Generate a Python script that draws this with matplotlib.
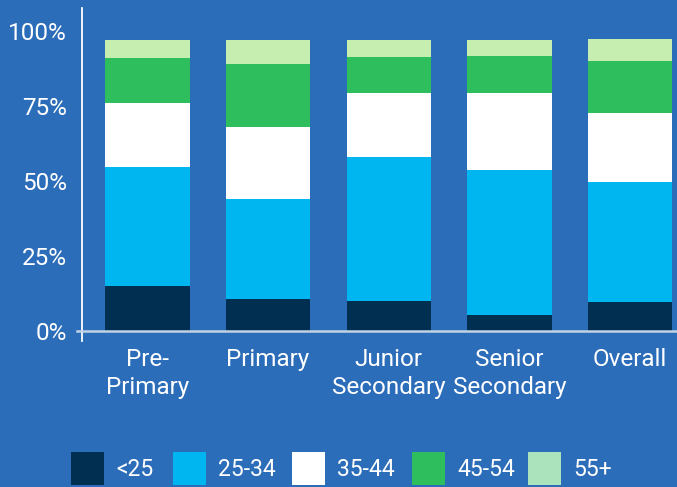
import matplotlib
matplotlib.use("agg")
import matplotlib.pyplot as plt
from matplotlib.patches import Rectangle
import numpy as np

plt.rcParams['font.family'] = ['Roboto', 'DejaVu Sans']

# share of teachers by age band, per education level (%)
levels = ["Pre-\nPrimary", "Primary", "Junior\nSecondary", "Senior\nSecondary", "Overall"]
age_bands = ["<25", "25-34", "35-44", "45-54", "55+"]
under_25 = [15.0, 10.7, 10.0, 5.3, 9.7]
age_25_34 = [39.7, 33.3, 48.0, 48.4, 40.0]
age_35_44 = [21.3, 24.0, 21.3, 25.6, 23.0]
age_45_54 = [15.0, 21.0, 12.0, 12.4, 17.3]
age_55_plus = [6.0, 8.0, 5.7, 5.3, 7.3]

bg = "#2C6DB9"
bar_colors = ["#002F52", "#00B6F0", "#FFFFFF", "#2FBE5D", "#C6EEB1"]
legend_colors = ["#002F52", "#00B6F0", "#FFFFFF", "#2FBE5D", "#ABE3BC"]

W, H = 677, 487
fig = plt.figure(figsize=(W / 100, H / 100), dpi=100, facecolor=bg)
ax = fig.add_axes([82 / W, 1 - 341 / H, 1 - 82 / W, 333 / H])
ax.set_facecolor(bg)

x = np.arange(len(levels))
series = [under_25, age_25_34, age_35_44, age_45_54, age_55_plus]
bottom = np.zeros(len(levels))
for vals, col in zip(series, bar_colors):
    ax.bar(x, vals, width=0.70, bottom=bottom, color=col, linewidth=0, zorder=2)
    bottom += np.array(vals)

ax.set_xlim(-0.543, 4.39)
ax.set_ylim(-3.33, 107.67)

for side in ["top", "right", "bottom"]:
    ax.spines[side].set_visible(False)
ax.spines["left"].set_color("white")
ax.spines["left"].set_linewidth(1.3)

# baseline at 0%, poking slightly left of the y axis
ax.axhline(0, xmin=-0.009, xmax=1, color="#C3D3E6", linewidth=1.8, zorder=3, clip_on=False)

ax.set_yticks([0, 25, 50, 75, 100])
ax.set_yticklabels(["0%", "25%", "50%", "75%", "100%"])
ax.tick_params(axis="y", length=0, pad=11, labelsize=17.5, labelcolor="white")

ax.set_xticks(x)
ax.set_xticklabels(levels, linespacing=1.3)
ax.tick_params(axis="x", length=0, pad=5, labelsize=17.5, labelcolor="white")

# legend row: swatch left edges in pixels
swatch_x = [71, 173, 292, 412, 528]
sw = 33
for px, lab, col in zip(swatch_x, age_bands, legend_colors):
    fig.patches.append(Rectangle((px / W, 1 - 485 / H), sw / W, sw / H,
                                 transform=fig.transFigure, facecolor=col,
                                 edgecolor="none"))
    fig.text((px + sw + 12) / W, 1 - 470 / H, lab, color="white",
             fontsize=16.5, ha="left", va="center")

fig.savefig("out.png", dpi=100, facecolor=bg)
